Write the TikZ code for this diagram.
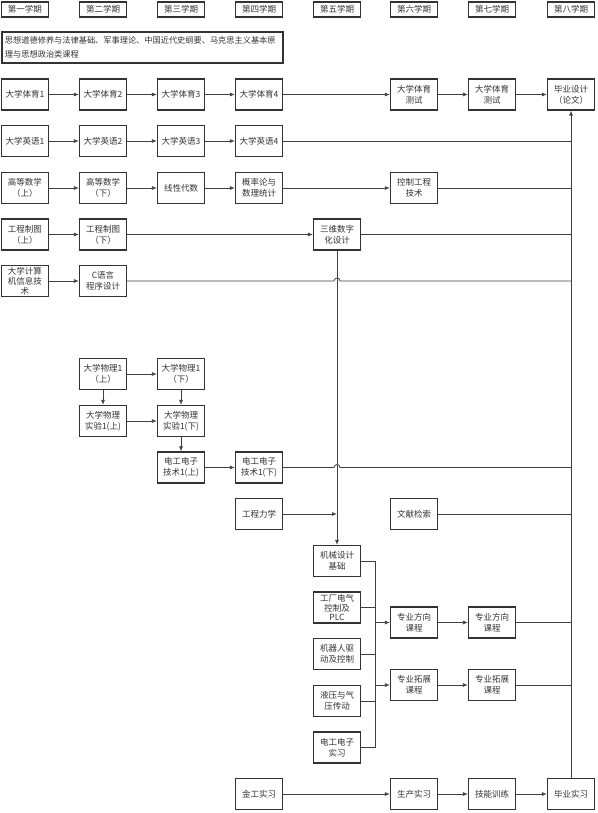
\documentclass[tikz,border=0pt]{standalone}
\usepackage{fontspec}
\setmainfont{Noto Sans CJK SC}
\usetikzlibrary{arrows.meta}

\begin{document}
\begin{tikzpicture}[x=1pt, y=-1pt,
  box/.style={draw=black!80, line width=1.2pt, align=center, fill=white,
  inner sep=1pt, minimum width=47pt, minimum height=31pt, text=black!80,
  font=\fontsize{8.5}{11}\selectfont},
  termbox/.style={box, minimum height=15pt},
  tallbox/.style={box, font=\fontsize{8.5}{9.8}\selectfont},
  line/.style={line width=0.8pt, draw=black!75},
  arrow/.style={line, -{Latex[length=5pt,width=4pt]}}
]
\useasboundingbox (0,0) rectangle (597,813);

% semesters
\node[termbox] (t1) at (25,9.5) {第一学期};
\node[termbox] (t2) at (103,9.5) {第二学期};
\node[termbox] (t3) at (181,9.5) {第三学期};
\node[termbox] (t4) at (259,9.5) {第四学期};
\node[termbox] (t5) at (337,9.5) {第五学期};
\node[termbox] (t6) at (414,9.5) {第六学期};
\node[termbox] (t7) at (492,9.5) {第七学期};
\node[termbox] (t8) at (571,9.5) {第八学期};

\node[box, align=left, inner xsep=3pt, text width=275pt, font=\fontsize{8.2}{14.6}\selectfont] (sz) at (142.5,47.5)
  {思想道德修养与法律基础、军事理论、中国近代史纲要、马克思主义基本原\\理与思想政治类课程};

% rows
\node[box] (ty1) at (25,94.5) {大学体育1};
\node[box] (ty2) at (103,94.5) {大学体育2};
\node[box] (ty3) at (181,94.5) {大学体育3};
\node[box] (ty4) at (259,94.5) {大学体育4};
\node[box] (tyc1) at (414,94.5) {大学体育\\测试};
\node[box] (tyc2) at (492,94.5) {大学体育\\测试};
\node[box] (bs) at (571,94.5) {毕业设计\\（论文）};

\node[box] (en1) at (25,141) {大学英语1};
\node[box] (en2) at (103,141) {大学英语2};
\node[box] (en3) at (181,141) {大学英语3};
\node[box] (en4) at (259,141) {大学英语4};

\node[box] (gs1) at (25,188) {高等数学\\（上）};
\node[box] (gs2) at (103,188) {高等数学\\（下）};
\node[box] (xd) at (181,188) {线性代数};
\node[box] (gl) at (259,188) {概率论与\\数理统计};
\node[box] (kz) at (414,188) {控制工程\\技术};

\node[box] (zt1) at (25,234.5) {工程制图\\（上）};
\node[box] (zt2) at (103,234.5) {工程制图\\（下）};
\node[box] (sw) at (337,234.5) {三维数字\\化设计};

\node[tallbox] (jsj) at (25,281) {大学计算\\机信息技\\术};
\node[box] (cy) at (103,281) {C语言\\程序设计};

% physics and electrics
\node[box] (wl1) at (103,374) {大学物理1\\（上）};
\node[box] (wl2) at (181,374) {大学物理1\\（下）};
\node[box] (sy1) at (103,421) {大学物理\\实验1(上)};
\node[box] (sy2) at (181,421) {大学物理\\实验1(下)};
\node[box] (dz1) at (181,467.5) {电工电子\\技术1(上)};
\node[box] (dz2) at (259,467.5) {电工电子\\技术1(下)};
\node[box] (lx) at (259,514) {工程力学};
\node[box] (wx) at (414,514) {文献检索};

% specialty
\node[box] (jx) at (337,561) {机械设计\\基础};
\node[tallbox] (plc) at (337,607.5) {工厂电气\\控制及\\PLC};
\node[box] (jqr) at (337,654) {机器人驱\\动及控制};
\node[box] (yq) at (337,701) {液压与气\\压传动};
\node[box] (dzsx) at (337,747.5) {电工电子\\实习};
\node[box] (fx1) at (414,622.5) {专业方向\\课程};
\node[box] (fx2) at (492,622.5) {专业方向\\课程};
\node[box] (tz1) at (414,685) {专业拓展\\课程};
\node[box] (tz2) at (492,685) {专业拓展\\课程};

\node[box] (jg) at (259,794) {金工实习};
\node[box] (sc) at (414,794) {生产实习};
\node[box] (jn) at (492,794) {技能训练};
\node[box] (sx) at (571,794) {毕业实习};

\coordinate (bus) at (375,560);

\draw[arrow] (ty1) -- (ty2);
\draw[arrow] (ty2) -- (ty3);
\draw[arrow] (ty3) -- (ty4);
\draw[arrow] (ty4) -- (tyc1);
\draw[arrow] (tyc1) -- (tyc2);
\draw[arrow] (tyc2) -- (bs);

\draw[arrow] (en1) -- (en2);
\draw[arrow] (en2) -- (en3);
\draw[arrow] (en3) -- (en4);
\draw[line] (en4.east) -- (en4.east -| sx.north);

\draw[arrow] (gs1) -- (gs2);
\draw[arrow] (gs2) -- (xd);
\draw[arrow] (xd) -- (gl);
\draw[arrow] (gl) -- (kz);
\draw[line] (kz.east) -- (kz.east -| sx.north);

\draw[arrow] (zt1) -- (zt2);
\draw[arrow] (zt2) -- (sw);
\draw[line] (sw.east) -- (sw.east -| sx.north);
\draw[arrow] (sw.south) -- (jx.north);

\draw[arrow] (jsj) -- (cy);
\coordinate (hop1) at (cy.east -| sw.south);
\draw[line] (cy.east) -- ([xshift=-3pt]hop1) arc[start angle=180, end angle=0, radius=3pt]
  -- (cy.east -| sx.north);

\draw[arrow] (wl1) -- (wl2);
\draw[arrow] (wl1) -- (sy1);
\draw[arrow] (wl2) -- (sy2);
\draw[arrow] (sy1) -- (sy2);
\draw[arrow] (sy2) -- (dz1);
\draw[arrow] (dz1) -- (dz2);
\coordinate (hop2) at (dz2.east -| sw.south);
\draw[line] (dz2.east) -- ([xshift=-3pt]hop2) arc[start angle=180, end angle=0, radius=3pt]
  -- (dz2.east -| sx.north);
\draw[arrow] (lx.east) -- (lx.east -| sw.south);
\draw[line] (wx.east) -- (wx.east -| sx.north);

\draw[line] (jx.east) -| (bus |- dzsx.east) -- (dzsx.east);
\draw[line] (plc.east) -- (plc.east -| bus);
\draw[line] (jqr.east) -- (jqr.east -| bus);
\draw[line] (yq.east) -- (yq.east -| bus);
\draw[arrow] (fx1.west -| bus) -- (fx1.west);
\draw[arrow] (tz1.west -| bus) -- (tz1.west);
\draw[arrow] (fx1) -- (fx2);
\draw[arrow] (tz1) -- (tz2);
\draw[line] (fx2.east) -- (fx2.east -| sx.north);
\draw[line] (tz2.east) -- (tz2.east -| sx.north);

\draw[arrow] (jg) -- (sc);
\draw[arrow] (sc) -- (jn);
\draw[arrow] (jn) -- (sx);
\draw[arrow] (sx.north) -- (bs.south);
\end{tikzpicture}
\end{document}
